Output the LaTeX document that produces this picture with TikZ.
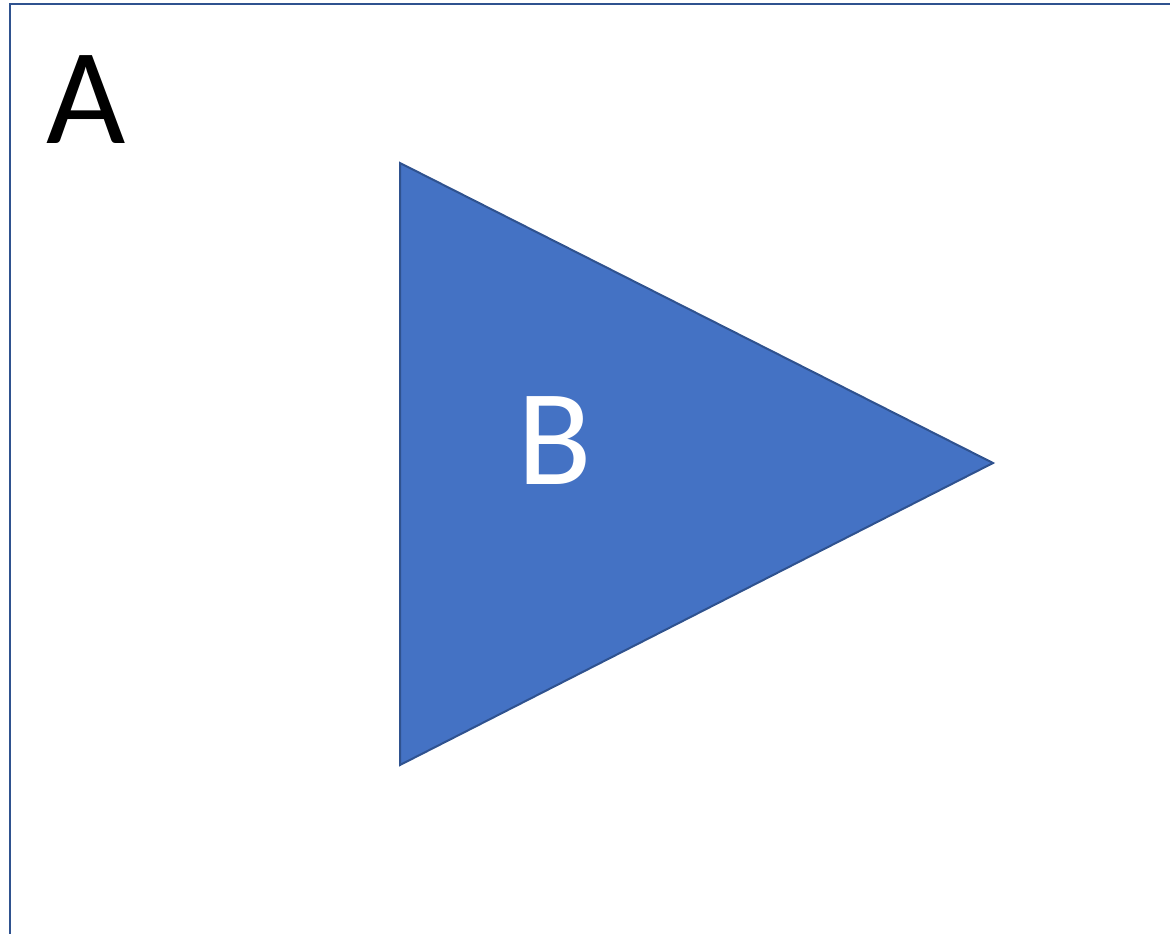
\documentclass[tikz,border=0pt]{standalone}
\usepackage{fontspec}
\setmainfont{Carlito}
\definecolor{fillblue}{HTML}{4472C4}
\definecolor{edgeblue}{HTML}{2F528F}
\tikzset{
  frame/.style={draw=edgeblue, line width=2.2pt},
  tri/.style={fill=fillblue, draw=edgeblue, line width=2pt, line join=miter},
  biglabel/.style={inner sep=0pt, font=\fontsize{137}{137}\selectfont}
}
\begin{document}
\begin{tikzpicture}[x=1pt,y=-1pt]
\useasboundingbox (0,0) rectangle (1170,934);
\clip (0,0) rectangle (1170,934);
\draw[frame] (10,4) rectangle (1200,970);
\draw[tri] (400,163) -- (993,463) -- (400,765) -- cycle;
\node[biglabel, anchor=base west, text=black] (A) at (46,143) {A};
\node[biglabel, anchor=base, text=white] (B) at (555,484) {B};
\end{tikzpicture}
\end{document}
